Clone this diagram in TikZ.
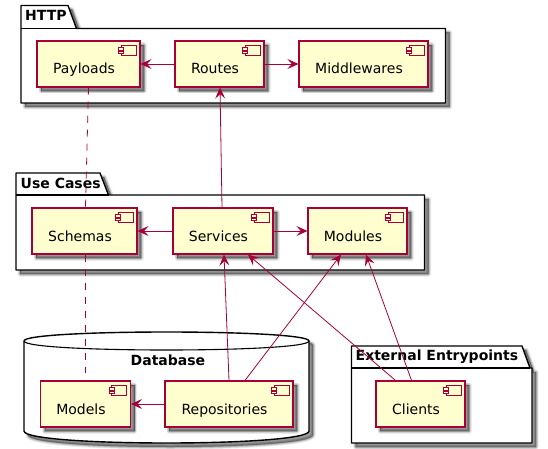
\documentclass[tikz,border=0pt]{standalone}
\usepackage{fontspec}
\setmainfont{DejaVu Sans}
\usetikzlibrary{arrows.meta}
\definecolor{umlline}{HTML}{A80036}
\definecolor{umlfill}{HTML}{FEFECE}
\tikzset{
  softshadow/.style={
    preaction={fill=black,draw=black,opacity=.08,line width=5pt,line join=round,transform canvas={shift={(4pt,-4pt)}}},
    preaction={fill=black,draw=black,opacity=.11,line width=3.5pt,line join=round,transform canvas={shift={(4pt,-4pt)}}},
    preaction={fill=black,draw=black,opacity=.13,line width=2pt,line join=round,transform canvas={shift={(4pt,-4pt)}}},
    preaction={fill=black,draw=black,opacity=.16,line width=.5pt,line join=round,transform canvas={shift={(4pt,-4pt)}}}},
  comp/.style={rectangle,softshadow,draw=umlline,fill=umlfill,line width=1.2pt,minimum height=46pt,
    inner sep=0pt,text height=0pt,text depth=0pt,font=\fontsize{14}{14}\selectfont,text=black},
  pack/.style={softshadow,draw=black,fill=white,line width=1.4pt,line join=round},
  packname/.style={anchor=base west,inner sep=0pt,font=\fontsize{14}{14}\selectfont\bfseries,text=black},
  icon/.style={draw=umlline,fill=umlfill,line width=1pt},
  flow/.style={draw=umlline,line width=.8pt,-{Stealth[length=11pt,width=10pt,inset=4.5pt]}},
  tie/.style={draw=umlline,line width=.8pt,dash pattern=on 7pt off 7pt}
}
\newcommand{\clabel}[1]{\raisebox{-10pt}{#1}\hspace*{9pt}}
\begin{document}
\begin{tikzpicture}[x=1pt,y=-1pt]
\useasboundingbox (0,0) rectangle (548,449);
% packages
\draw[pack] (21,28.5) -- (21,5.5) -- (68,5.5) -- (76.5,28.5) -- (445.5,28.5) -- (445.5,103) -- (21,103) -- cycle;
\draw[black,line width=1.2pt] (21,28.5) -- (76.5,28.5);
\node[packname] (httpname) at (25,21) {HTTP};
\draw[pack] (16,195) -- (16,173) -- (100,173) -- (108.5,195) -- (424.5,195) -- (424.5,270) -- (16,270) -- cycle;
\draw[black,line width=1.2pt] (16,195) -- (108.5,195);
\node[packname] (usename) at (20.5,188) {Use Cases};
\draw[pack] (351.5,368) -- (351.5,346) -- (522,346) -- (530,368) -- (532,368) -- (532,443) -- (351.5,443) -- cycle;
\draw[black,line width=1.2pt] (351.5,368) -- (530,368);
\node[packname] (extname) at (355.5,360.7) {External Entrypoints};
% database
\draw[pack] (24,341) .. controls (24,329) and (309,329) .. (309,341) -- (309,431)
  .. controls (309,447) and (24,447) .. (24,431) -- cycle;
\draw[black,line width=1.1pt] (24,341) .. controls (24,353) and (309,353) .. (309,341);
\node[packname] (dbname) at (130.5,365.7) {Database};
% components
\node[comp,minimum width=103pt] (payloads) at (88.5,64) {\clabel{Payloads}};
\node[comp,minimum width=89pt] (routes) at (219.5,64) {\clabel{Routes}};
\node[comp,minimum width=129pt] (middlewares) at (363.5,64) {\clabel{Middlewares}};
\node[comp,minimum width=105pt] (schemas) at (84.5,231) {\clabel{Schemas}};
\node[comp,minimum width=100pt] (services) at (223,231) {\clabel{Services}};
\node[comp,minimum width=99pt] (modules) at (357.5,231) {\clabel{Modules}};
\node[comp,minimum width=90pt] (models) at (85.5,404) {\clabel{Models}};
\node[comp,minimum width=128pt] (repositories) at (229,404) {\clabel{Repositories}};
\node[comp,minimum width=89pt] (clients) at (420.5,404) {\clabel{Clients}};
\foreach \n in {payloads,routes,middlewares,schemas,services,modules,models,repositories,clients}{
  \draw[icon] ([xshift=-19.5pt,yshift=-5.5pt]\n.north east) rectangle ([xshift=-4.5pt,yshift=-15pt]\n.north east);
  \draw[icon,line width=.9pt] ([xshift=-22pt,yshift=-7.5pt]\n.north east) rectangle ([xshift=-17pt,yshift=-10pt]\n.north east);
  \draw[icon,line width=.9pt] ([xshift=-22pt,yshift=-11pt]\n.north east) rectangle ([xshift=-17pt,yshift=-13.5pt]\n.north east);
}
% connectors
\draw[flow] (routes.west) -- (payloads.east);
\draw[flow] (routes.east) -- (middlewares.west);
\draw[flow] (services.west) -- (schemas.east);
\draw[flow] (services.east) -- (modules.west);
\draw[flow] (repositories.west) -- (models.east);
\draw[flow] ([xshift=-1pt]services.north) -- ([xshift=.5pt]routes.south);
\draw[flow] (repositories.north) -- ([xshift=1pt]services.south);
\draw[flow] ([xshift=16pt]repositories.north) -- ([xshift=-16.5pt]modules.south);
\draw[flow] ([xshift=-25pt]clients.north) -- ([xshift=25pt]services.south);
\draw[flow] ([xshift=-9pt]clients.north) -- ([xshift=8.5pt]modules.south);
\coordinate (modelsend) at (85.5,373);
\draw[tie] (payloads.south) -- ([xshift=1pt]schemas.north);
\draw[tie] ([xshift=1pt]schemas.south) -- (modelsend);
\end{tikzpicture}
\end{document}
